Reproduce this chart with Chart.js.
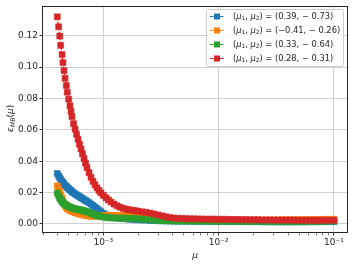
<!DOCTYPE html>
<html>
<head>
<meta charset="UTF-8">
<title>eps_MB vs mu</title>
<script src="https://cdn.jsdelivr.net/npm/chart.js"></script>
<style>
  html, body { margin: 0; padding: 0; background: #fff; }
  canvas { display: block; }
</style>
</head>
<body>
<canvas id="chart" width="354" height="266" style="width:354px;height:266px"></canvas>
<script>
// mu values (shared by all four curves)
const mu = [
  0.000399, 0.000410, 0.000419, 0.000427, 0.000439, 0.000447, 0.000456, 0.000466, 0.000478, 0.000487, 0.000501, 0.000514, 0.000525, 0.000535,
  0.000552, 0.000569, 0.000586, 0.000604, 0.000622, 0.000641, 0.000660, 0.000680, 0.000701, 0.000722, 0.000752, 0.000782, 0.000814, 0.000847, 0.000882,
  0.000918, 0.000955, 0.001004, 0.001055, 0.001109, 0.001166, 0.001238, 0.001315, 0.001396, 0.001482, 0.001573, 0.001670, 0.001773, 0.001883, 0.001999,
  0.002165, 0.002346, 0.002541, 0.002751, 0.002980, 0.003228, 0.003496, 0.003786, 0.004102, 0.004443,
  0.004813, 0.005212, 0.005645, 0.006114, 0.006622, 0.007173, 0.007768, 0.008414, 0.009114, 0.009871,
  0.01069, 0.01158, 0.01254, 0.01359, 0.01472, 0.01594, 0.01727, 0.01870, 0.02026, 0.02194,
  0.02376, 0.02574, 0.02788, 0.03019, 0.03270, 0.03542, 0.03837, 0.04155, 0.04500, 0.04875,
  0.05280, 0.05718, 0.06194, 0.06709, 0.07267, 0.07870, 0.08524, 0.09233, 0.1
];

// eps_MB(mu) for each (mu1, mu2) pair
const epsBlue = [
  .0322, .0306, .0295, .0284, .0272, .0263, .0255, .0247, .0239, .0232, .0225, .0218, .0212, .0206,
  .0199, .0192, .0186, .0180, .0174, .0168, .0162, .0156, .0150, .0144, .0136, .0127, .0118, .0108, .0098,
  .0088, .0078, .0067, .0058, .0051, .0046, .0042, .0039, .0037, .0035, .0033, .0031, .0030, .0029, .0027,
  .0026, .0025, .0023, .0022, .0021, .0020, .0019, .0019, .0018, .0018,
  .0018, .0018, .0018, .0017, .0017, .0017, .0017, .0017, .0017, .0016,
  .0016, .0016, .0016, .0016, .0016, .0015, .0015, .0015, .0015, .0015,
  .0014, .0014, .0014, .0014, .0013, .0013, .0013, .0013, .0013, .0013,
  .0013, .0013, .0014, .0014, .0014, .0015, .0015, .0015, .0015
];
const epsOrange = [
  .0243, .0225, .0207, .0188, .0165, .0146, .0130, .0117, .0106, .0098, .0092, .0087, .0084, .0081,
  .0077, .0074, .0071, .0068, .0065, .0062, .0059, .0057, .0055, .0053, .0051, .0050, .0050, .0050, .0051,
  .0052, .0053, .0054, .0055, .0055, .0055, .0055, .0054, .0054, .0054, .0053, .0052, .0051, .0050, .0048,
  .0046, .0044, .0041, .0038, .0035, .0032, .0030, .0029, .0028, .0027,
  .0027, .0026, .0026, .0026, .0025, .0025, .0025, .0025, .0024, .0024,
  .0024, .0024, .0024, .0024, .0024, .0024, .0024, .0024, .0024, .0025,
  .0025, .0025, .0026, .0026, .0026, .0027, .0027, .0027, .0028, .0028,
  .0028, .0028, .0029, .0029, .0029, .0029, .0030, .0030, .0030
];
const epsGreen = [
  .0197, .0180, .0166, .0154, .0144, .0136, .0130, .0125, .0120, .0116, .0112, .0108, .0105, .0102,
  .0099, .0097, .0095, .0093, .0091, .0089, .0087, .0084, .0081, .0078, .0074, .0069, .0064, .0059, .0055,
  .0051, .0047, .0044, .0042, .0040, .0039, .0038, .0038, .0037, .0037, .0036, .0036, .0035, .0034, .0033,
  .0031, .0029, .0027, .0025, .0023, .0022, .0021, .0020, .0020, .0019,
  .0019, .0019, .0018, .0018, .0018, .0018, .0018, .0017, .0017, .0017,
  .0017, .0017, .0017, .0016, .0016, .0016, .0016, .0016, .0016, .0016,
  .0016, .0015, .0015, .0015, .0015, .0015, .0015, .0015, .0015, .0016,
  .0016, .0016, .0016, .0017, .0017, .0017, .0017, .0018, .0018
];
const epsRed = [
  .1321, .1257, .1198, .1139, .1081, .1029, .0978, .0929, .0883, .0840, .0796, .0754, .0718, .0684,
  .0640, .0605, .0572, .0540, .0508, .0478, .0448, .0418, .0388, .0360, .0328, .0298, .0272, .0250, .0230,
  .0213, .0198, .0182, .0167, .0153, .0140, .0127, .0116, .0107, .0100, .0095, .0091, .0088, .0085, .0082,
  .0078, .0074, .0070, .0064, .0058, .0052, .0046, .0041, .0038, .0036,
  .0035, .0034, .0033, .0033, .0032, .0032, .0031, .0031, .0031, .0030,
  .0030, .0030, .0029, .0029, .0028, .0028, .0028, .0027, .0027, .0027,
  .0026, .0026, .0026, .0025, .0025, .0025, .0025, .0025, .0024, .0024,
  .0024, .0024, .0024, .0024, .0024, .0024, .0024, .0024, .0024
];

const pairs = [[0.39, -0.73], [-0.41, -0.26], [0.33, -0.64], [0.28, -0.31]];
const colors = ['#1f77b4', '#ff7f0e', '#2ca02c', '#d62728'];
const series = [epsBlue, epsOrange, epsGreen, epsRed];

const yTicks = [0, 0.02, 0.04, 0.06, 0.08, 0.10, 0.12];
const xMajor = [0.001, 0.01, 0.1];
const xMajorLabels = ['10⁻³', '10⁻²', '10⁻¹'];
const xMinor = [0.0003, 0.0004, 0.0005, 0.0006, 0.0007, 0.0008, 0.0009,
                0.002, 0.003, 0.004, 0.005, 0.006, 0.007, 0.008, 0.009,
                0.02, 0.03, 0.04, 0.05, 0.06, 0.07, 0.08, 0.09];

const FONT = '"DejaVu Sans"';
const TXT = '#262626';

function drawRuns(ctx, runs, x, y) {
  let cx = x;
  runs.forEach(r => {
    ctx.font = r[1];
    ctx.fillText(r[0], cx, y + (r[2] || 0));
    cx += ctx.measureText(r[0]).width;
  });
  return cx - x;
}
function runsWidth(ctx, runs) {
  let w = 0;
  runs.forEach(r => { ctx.font = r[1]; w += ctx.measureText(r[0]).width; });
  return w;
}

const decor = {
  id: 'decor',
  afterDraw(chart) {
    const ctx = chart.ctx, a = chart.chartArea;
    ctx.save();
    // axes frame
    ctx.strokeStyle = TXT;
    ctx.lineWidth = 1;
    ctx.strokeRect(Math.round(a.left) - 0.5, Math.round(a.top) - 0.5,
                   Math.round(a.right - a.left) + 1, Math.round(a.bottom - a.top) + 1);

    ctx.fillStyle = TXT;
    ctx.textBaseline = 'middle';
    // x title
    ctx.textAlign = 'center';
    ctx.font = 'italic 9px ' + FONT;
    ctx.fillText('μ', (a.left + a.right) / 2, 256);

    // y title
    ctx.textAlign = 'left';
    const yt = [
      ['ε', 'italic 9px ' + FONT], ['MB', 'italic 6.3px ' + FONT, 2],
      ['(', '9px ' + FONT], ['μ', 'italic 9px ' + FONT], [')', '9px ' + FONT]
    ];
    ctx.save();
    ctx.translate(11, (a.top + a.bottom) / 2 - 1);
    ctx.rotate(-Math.PI / 2);
    drawRuns(ctx, yt, -runsWidth(ctx, yt) / 2, 0);
    ctx.restore();

    // legend
    const bx = 206.5, by = 9.5, bw = 137, bh = 57;
    ctx.beginPath();
    ctx.roundRect(bx, by, bw, bh, 2);
    ctx.fillStyle = 'rgba(255,255,255,0.8)';
    ctx.fill();
    ctx.strokeStyle = '#cccccc';
    ctx.stroke();
    const f = '8.3px ' + FONT, fi = 'italic 8.3px ' + FONT, fs = '5.8px ' + FONT;
    pairs.forEach((p, i) => {
      const y = 16.5 + i * 14;
      ctx.strokeStyle = colors[i];
      ctx.lineWidth = 1.2;
      ctx.setLineDash([3.5, 1.5]);
      ctx.beginPath();
      ctx.moveTo(210, y); ctx.lineTo(224, y);
      ctx.stroke();
      ctx.setLineDash([]);
      ctx.fillStyle = colors[i];
      ctx.fillRect(214, y - 3, 6, 6);
      ctx.fillStyle = TXT;
      const a1 = (p[0] < 0 ? '−' : '') + Math.abs(p[0]).toFixed(2);
      const a2 = (p[1] < 0 ? '− ' : '') + Math.abs(p[1]).toFixed(2);
      drawRuns(ctx, [
        ['(', f], ['μ', fi], ['1', fs, 2], [', ', f], ['μ', fi], ['2', fs, 2],
        [') = (' + a1 + ', ' + a2 + ')', f]
      ], 233, y);
    });
    ctx.restore();
  }
};

const datasets = series.map((s, i) => ({
  label: '(μ1, μ2) = (' + pairs[i][0] + ', ' + pairs[i][1] + ')',
  data: mu.map((m, k) => ({ x: m, y: s[k] })),
  borderColor: colors[i],
  backgroundColor: colors[i],
  borderWidth: 1.3,
  borderDash: [3.5, 1.5],
  pointStyle: 'rect',
  pointRadius: 4.2,
  pointBorderWidth: 0.6,
  pointBackgroundColor: colors[i],
  pointBorderColor: colors[i],
  order: 4 - i
}));

new Chart(document.getElementById('chart'), {
  type: 'line',
  data: { datasets },
  options: {
    responsive: false,
    animation: false,
    devicePixelRatio: 1,
    layout: { padding: { top: 6, right: 7, left: 0, bottom: 0 } },
    plugins: { legend: { display: false }, tooltip: { enabled: false } },
    scales: {
      x: {
        type: 'logarithmic',
        min: 0.0003,
        max: 0.1297,
        afterBuildTicks: s => {
          s.ticks = xMinor.concat(xMajor).sort((p, q) => p - q).map(v => ({ value: v, major: xMajor.includes(v) }));
        },
        afterFit: s => { s.height = 34; },
        ticks: {
          autoSkip: false, maxRotation: 0, padding: 1.5, color: TXT,
          font: { family: 'DejaVu Sans', size: 9 },
          callback: v => { const k = xMajor.indexOf(v); return k >= 0 ? xMajorLabels[k] : ''; }
        },
        grid: {
          color: c => (c.tick && xMajor.includes(c.tick.value)) ? '#d0d0d0' : 'rgba(0,0,0,0)',
          tickColor: TXT,
          tickLength: 3.5,
          tickWidth: c => (c.tick && xMajor.includes(c.tick.value)) ? 0.9 : 0.6
        },
        border: { display: false }
      },
      y: {
        min: -0.0051,
        max: 0.1384,
        afterBuildTicks: s => { s.ticks = yTicks.map(v => ({ value: v })); },
        afterFit: s => { s.width = 43; },
        ticks: {
          padding: 1.5, color: TXT,
          font: { family: 'DejaVu Sans', size: 9 },
          callback: v => v.toFixed(2)
        },
        grid: { color: '#d0d0d0', tickColor: TXT, tickLength: 3.5 },
        border: { display: false }
      }
    }
  },
  plugins: [decor]
});
</script>
</body>
</html>
